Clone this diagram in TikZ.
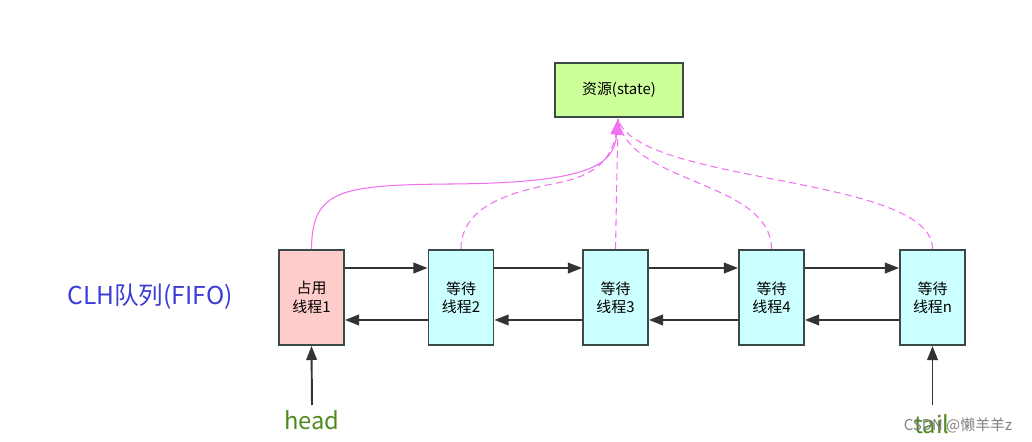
\documentclass[tikz,border=0pt]{standalone}
\usepackage{fontspec}
\setmainfont{Noto Sans CJK SC}
\usepackage{xcolor}
\usetikzlibrary{arrows.meta}
\definecolor{boxline}{HTML}{3A4A48}
\definecolor{greenfill}{HTML}{CCFF99}
\definecolor{redfill}{HTML}{FFCCCC}
\definecolor{cyanfill}{HTML}{CCFFFF}
\definecolor{pinkline}{HTML}{F070F0}
\definecolor{arrowgray}{HTML}{333333}
\definecolor{headgreen}{HTML}{4E8A1E}
\definecolor{clhblue}{HTML}{3C3CD8}
\tikzset{
statebox/.style={rectangle, draw=boxline, fill=greenfill, line width=1.1pt, minimum width=2.56cm, minimum height=1.08cm, inner sep=0pt, font=\fontsize{8.5}{10}\selectfont},
threadbox/.style={rectangle, draw=boxline, line width=1.1pt, minimum width=1.3cm, minimum height=1.9cm, inner sep=0pt, align=center, font=\fontsize{8.5}{10.5}\selectfont},
linkarrow/.style={draw=arrowgray, line width=1.1pt, -{Triangle[length=8pt,width=6pt]}},
waitline/.style={draw=pinkline, line width=0.6pt, dashed, dash pattern=on 4pt off 2.5pt},
}
\begin{document}
\begin{tikzpicture}[x=0.02cm, y=-0.02cm]
        \useasboundingbox (0,0) rectangle (1032,442);
        \node[statebox] at (619,90) (state) {资源(state)};
        \coordinate (tip) at (618,119);
        \node[threadbox, fill=redfill] at (311.5,297.5) (t1) {占用\\线程1};
        \node[threadbox, fill=cyanfill] at (461,297.5) (t2) {等待\\线程2};
        \node[threadbox, fill=cyanfill] at (615.5,297.5) (t3) {等待\\线程3};
        \node[threadbox, fill=cyanfill] at (771.5,297.5) (t4) {等待\\线程4};
        \node[threadbox, fill=cyanfill] at (932.5,297.5) (tn) {等待\\线程n};
        \node[text=clhblue, font=\fontsize{14}{17}\selectfont] at (150,297) (clh) {CLH队列(FIFO)};
        \node[text=headgreen, font=\fontsize{13.5}{16}\selectfont] at (312,420) (head) {head};
        \node[text=headgreen, font=\fontsize{13.5}{16}\selectfont] at (932,424) (tail) {tail};
        \node[text=gray, font=\fontsize{8.5}{10}\selectfont] at (958,425) (mark) {CSDN @懒羊羊z};
        % links between the threads
        \foreach \a/\b in {t1/t2,t2/t3,t3/t4,t4/tn}{
        \draw[linkarrow] ([yshift=0.59cm]\a.east) -- ([yshift=0.59cm]\b.west);
        \draw[linkarrow] ([yshift=-0.45cm]\b.west) -- ([yshift=-0.45cm]\a.east);
        }
        \coordinate (headstart) at (312,405);
        \coordinate (tailstart) at (932.5,405);
        \draw[linkarrow] (headstart) -- (t1.south);
        \draw[linkarrow] (tailstart) -- (tn.south);
        % threads to the state
        \draw[waitline] (t2.north) .. controls (461,195) and (540,188) .. (570,180) .. controls (605,170) and (616,150) .. (tip);
        \draw[waitline] (t3.north) -- (tip);
        \draw[waitline] (t4.north) .. controls (771,180) and (628,185) .. (tip);
        \draw[waitline] (tn.north) .. controls (933,175) and (638,185) .. (tip);
        \draw[draw=pinkline, line width=0.6pt, -{Triangle[length=9pt,width=7pt]}] (t1.north) .. controls (312,190) and (340,185) .. (450,184) .. controls (590,183) and (614,165) .. (tip);
\end{tikzpicture}
\end{document}
